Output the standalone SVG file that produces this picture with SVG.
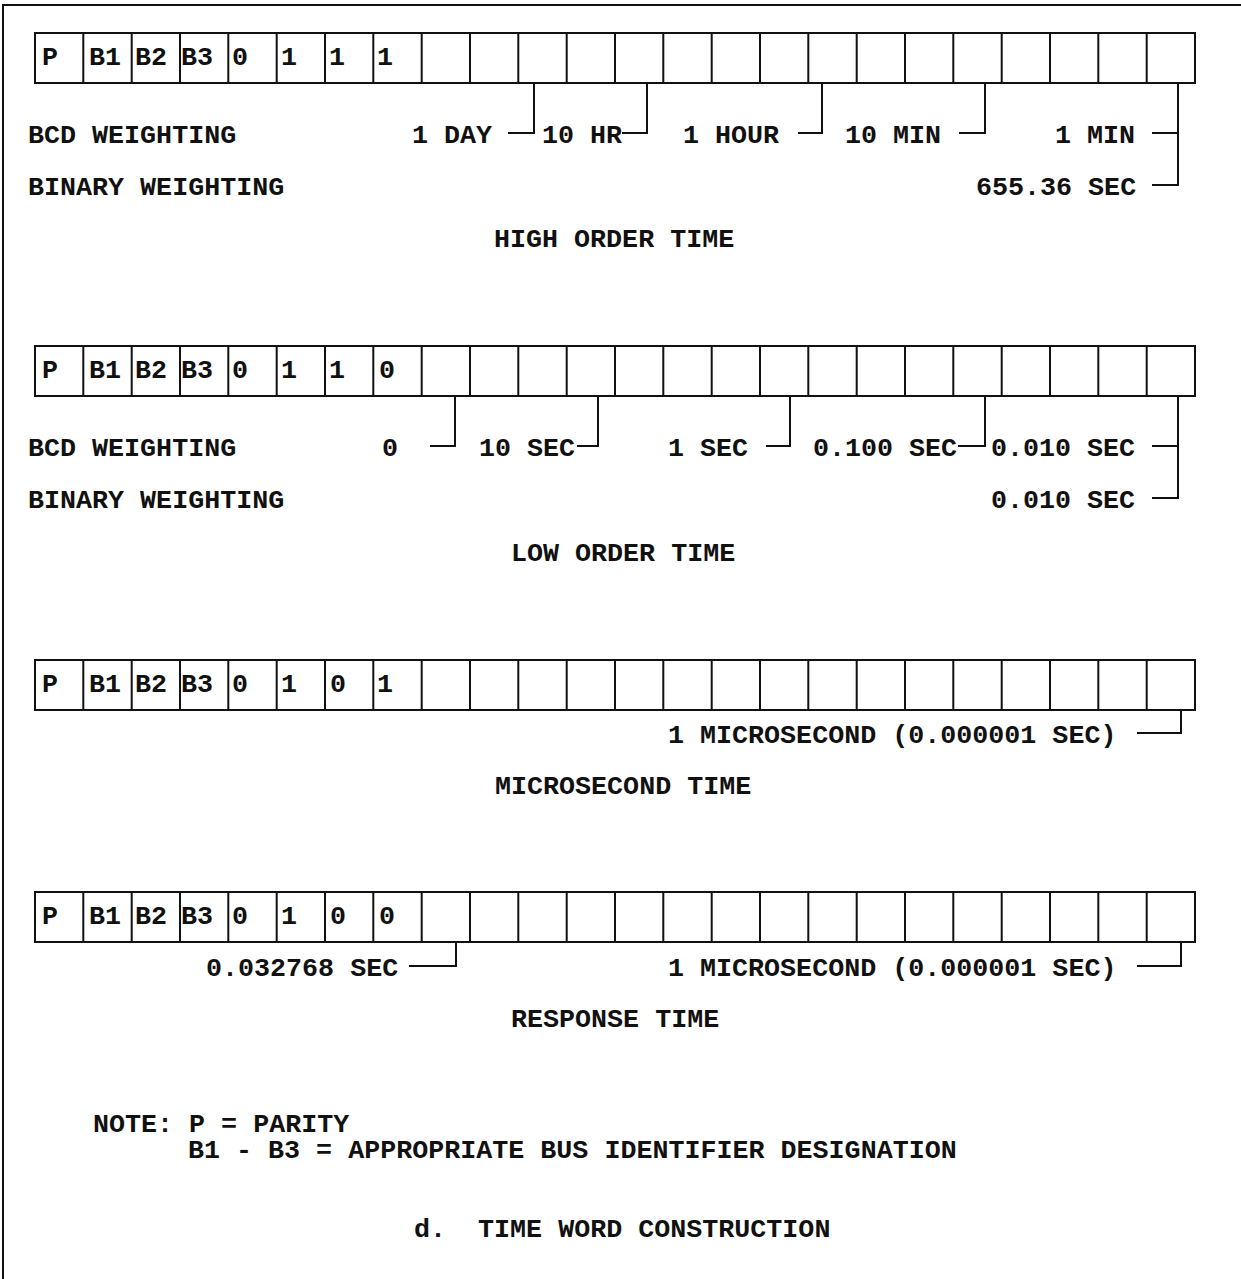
<svg xmlns="http://www.w3.org/2000/svg" width="1241" height="1279" viewBox="0 0 1241 1279">
<style>
text{font-family:"Liberation Mono","DejaVu Sans Mono",monospace;font-size:26.7px;font-weight:bold;fill:#111;white-space:pre}
.box{fill:none;stroke:#111;stroke-width:2}
.conn{fill:none;stroke:#111;stroke-width:2}
.frame{fill:none;stroke:#111;stroke-width:2}
</style>
<defs>
<g id="cells">
<rect x="35" y="0" width="1160" height="50" class="box"/>
<path class="box" d="M83.3 0V50M131.7 0V50M180 0V50M228.3 0V50M276.7 0V50M325 0V50M373.3 0V50M421.7 0V50M470 0V50M518.3 0V50M566.7 0V50M615 0V50M663.3 0V50M711.7 0V50M760 0V50M808.3 0V50M856.7 0V50M905 0V50M953.3 0V50M1001.7 0V50M1050 0V50M1098.3 0V50M1146.7 0V50"/>
<text x="42" y="32">P</text><text x="89" y="32">B1</text><text x="135" y="32">B2</text><text x="181" y="32">B3</text>
</g>
</defs>
<path class="frame" d="M3 1279V5H1241"/>

<g id="high-order-word">
<use href="#cells" y="33"/>
<text x="232" y="65">0</text><text x="281" y="65">1</text><text x="329" y="65">1</text><text x="377" y="65">1</text>
</g>
<g id="high-order-labels">
<text x="28" y="143">BCD WEIGHTING</text>
<text x="412" y="143">1 DAY</text>
<text x="542" y="143">10 HR</text>
<text x="683" y="143">1 HOUR</text>
<text x="845" y="143">10 MIN</text>
<text x="1055" y="143">1 MIN</text>
<text x="28" y="195">BINARY WEIGHTING</text>
<text x="976" y="195">655.36 SEC</text>
<text x="494" y="247">HIGH ORDER TIME</text>
</g>

<g id="low-order-word">
<use href="#cells" y="346"/>
<text x="232" y="378">0</text><text x="281" y="378">1</text><text x="329" y="378">1</text><text x="379" y="378">0</text>
</g>
<g id="low-order-labels">
<text x="28" y="456">BCD WEIGHTING</text>
<text x="382" y="456">0</text>
<text x="479" y="456">10 SEC</text>
<text x="668" y="456">1 SEC</text>
<text x="813" y="456">0.100 SEC</text>
<text x="991" y="456">0.010 SEC</text>
<text x="28" y="508">BINARY WEIGHTING</text>
<text x="991" y="508">0.010 SEC</text>
<text x="511" y="561">LOW ORDER TIME</text>
</g>

<g id="microsecond-word">
<use href="#cells" y="660"/>
<text x="232" y="692">0</text><text x="281" y="692">1</text><text x="330" y="692">0</text><text x="377" y="692">1</text>
</g>
<g id="microsecond-labels">
<text x="668" y="743">1 MICROSECOND (0.000001 SEC)</text>
<text x="495" y="794">MICROSECOND TIME</text>
</g>

<g id="response-word">
<use href="#cells" y="892"/>
<text x="232" y="924">0</text><text x="281" y="924">1</text><text x="330" y="924">0</text><text x="379" y="924">0</text>
</g>
<g id="response-labels">
<text x="206" y="976">0.032768 SEC</text>
<text x="668" y="976">1 MICROSECOND (0.000001 SEC)</text>
<text x="511" y="1027">RESPONSE TIME</text>
</g>

<g id="connectors">
<path class="conn" d="M534 83V133H508M647 83V133H622M822 83V133H798M985 83V133H959M1178 83V185H1152M1152 133H1178"/>
<path class="conn" d="M455 396V446H430M598 396V446H577M790 396V446H766M985 396V446H958M1178 396V498H1152M1152 446H1178"/>
<path class="conn" d="M1181 710V733H1137"/>
<path class="conn" d="M456 943V966H409M1181 943V966H1137"/>
</g>

<g id="notes">
<text x="93" y="1132">NOTE: P = PARITY</text>
<text x="188" y="1158">B1 - B3 = APPROPRIATE BUS IDENTIFIER DESIGNATION</text>
<text x="414" y="1237" xml:space="preserve">d.  TIME WORD CONSTRUCTION</text>
</g>
</svg>
